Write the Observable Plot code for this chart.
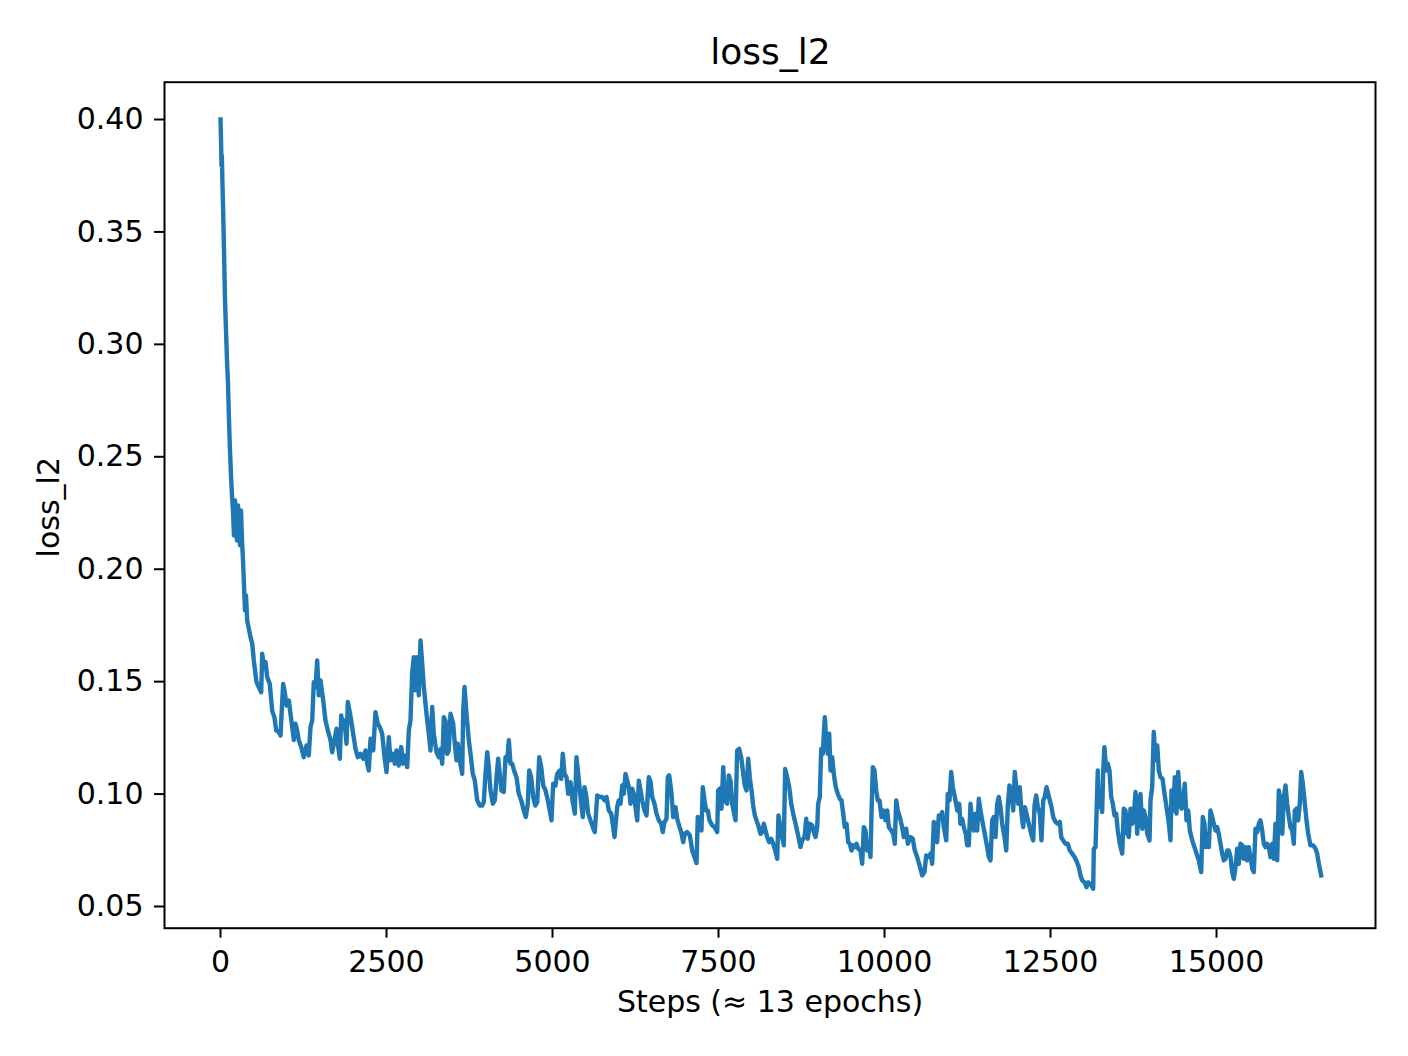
<!DOCTYPE html>
<html>
<head>
<meta charset="utf-8">
<script src="https://cdn.jsdelivr.net/npm/d3@7"></script>
<script src="https://cdn.jsdelivr.net/npm/@observablehq/plot@0.6"></script>
<style>
  html, body { margin: 0; padding: 0; background: #ffffff; }
  #chart { width: 1408px; height: 1056px; }
</style>
</head>
<body>
<div id="chart"></div>
<script>
const chartTitle = "loss_l2";
const xLabel = "Steps (\u2248 13 epochs)";
const yLabel = "loss_l2";
const xTicks = [0, 2500, 5000, 7500, 10000, 12500, 15000];
const yTicks = [0.05, 0.10, 0.15, 0.20, 0.25, 0.30, 0.35, 0.40];

const steps = [
  0, 8, 15, 20, 30, 38, 53, 68, 83, 98,
  113, 128, 143, 158, 173, 188, 203, 218, 233, 248,
  264, 279, 294, 309, 324, 339, 354, 369, 384, 402,
  452, 477, 502, 542, 577, 613, 628, 652, 678, 703,
  742, 779, 813, 839, 878, 904, 929, 944, 968, 994,
  1029, 1054, 1080, 1104, 1130, 1155, 1179, 1215, 1254, 1295,
  1330, 1355, 1381, 1405, 1431, 1456, 1480, 1506, 1547, 1581,
  1616, 1657, 1682, 1717, 1747, 1767, 1797, 1818, 1848, 1867,
  1898, 1917, 1947, 1968, 1998, 2033, 2068, 2108, 2149, 2184,
  2209, 2233, 2259, 2300, 2334, 2369, 2399, 2435, 2470, 2500,
  2535, 2560, 2595, 2625, 2651, 2685, 2721, 2751, 2786, 2812,
  2836, 2861, 2887, 2911, 2937, 2962, 2986, 3012, 3038, 3062,
  3102, 3137, 3163, 3188, 3212, 3253, 3288, 3313, 3339, 3363,
  3389, 3414, 3438, 3464, 3504, 3524, 3554, 3574, 3604, 3640,
  3655, 3675, 3705, 3739, 3765, 3800, 3830, 3866, 3905, 3941,
  3965, 3991, 4017, 4041, 4066, 4101, 4131, 4157, 4182, 4206,
  4232, 4266, 4292, 4318, 4342, 4367, 4393, 4428, 4458, 4492,
  4529, 4568, 4598, 4628, 4649, 4679, 4709, 4739, 4770, 4800,
  4830, 4860, 4895, 4929, 4959, 4985, 5010, 5045, 5071, 5110,
  5131, 5155, 5181, 5211, 5236, 5271, 5301, 5336, 5361, 5387,
  5422, 5456, 5482, 5507, 5538, 5572, 5607, 5637, 5673, 5708,
  5748, 5783, 5813, 5848, 5884, 5914, 5934, 5974, 5998, 6024,
  6050, 6074, 6099, 6125, 6149, 6175, 6200, 6224, 6250, 6276,
  6300, 6325, 6351, 6385, 6416, 6450, 6476, 6501, 6536, 6566,
  6601, 6637, 6661, 6687, 6717, 6736, 6757, 6788, 6818, 6852,
  6878, 6913, 6938, 6968, 6992, 7028, 7068, 7104, 7138, 7169,
  7188, 7218, 7243, 7263, 7289, 7314, 7339, 7364, 7405, 7440,
  7480, 7495, 7519, 7545, 7571, 7595, 7631, 7655, 7681, 7706,
  7730, 7756, 7781, 7811, 7842, 7872, 7896, 7922, 7947, 7971,
  7997, 8022, 8047, 8072, 8107, 8132, 8158, 8182, 8208, 8233,
  8263, 8294, 8324, 8354, 8384, 8403, 8423, 8449, 8483, 8504,
  8534, 8565, 8595, 8625, 8660, 8694, 8735, 8760, 8795, 8821,
  8845, 8875, 8911, 8935, 8961, 8986, 9001, 9025, 9047, 9071,
  9086, 9101, 9122, 9146, 9167, 9187, 9212, 9236, 9266, 9296,
  9327, 9352, 9378, 9402, 9428, 9453, 9477, 9503, 9528, 9553,
  9578, 9604, 9638, 9664, 9688, 9714, 9739, 9763, 9789, 9804,
  9824, 9849, 9875, 9899, 9925, 9955, 9989, 10015, 10041, 10065,
  10101, 10131, 10155, 10176, 10200, 10230, 10266, 10291, 10327, 10351,
  10391, 10426, 10456, 10492, 10527, 10568, 10602, 10628, 10658, 10693,
  10718, 10742, 10768, 10793, 10818, 10843, 10869, 10893, 10929, 10953,
  10979, 11004, 11028, 11059, 11095, 11125, 11144, 11170, 11194, 11224,
  11245, 11269, 11295, 11320, 11345, 11370, 11396, 11420, 11446, 11480,
  11510, 11546, 11571, 11596, 11622, 11646, 11672, 11697, 11721, 11747,
  11772, 11807, 11833, 11857, 11882, 11908, 11938, 11962, 11988, 12013,
  12037, 12063, 12089, 12113, 12138, 12173, 12209, 12239, 12259, 12284,
  12309, 12339, 12364, 12390, 12414, 12440, 12465, 12489, 12515, 12541,
  12575, 12610, 12640, 12661, 12691, 12726, 12760, 12791, 12827, 12861,
  12891, 12926, 12952, 12977, 13012, 13042, 13068, 13092, 13116, 13143,
  13152, 13178, 13193, 13212, 13228, 13253, 13278, 13294, 13312, 13339,
  13363, 13388, 13414, 13438, 13464, 13489, 13513, 13543, 13580, 13604,
  13629, 13655, 13679, 13705, 13730, 13754, 13780, 13806, 13830, 13855,
  13881, 13905, 13931, 13956, 13991, 14006, 14031, 14055, 14081, 14107,
  14131, 14156, 14187, 14217, 14247, 14277, 14307, 14322, 14348, 14372,
  14397, 14423, 14447, 14473, 14498, 14522, 14548, 14574, 14598, 14634,
  14668, 14699, 14733, 14769, 14793, 14819, 14834, 14860, 14884, 14909,
  14935, 14959, 14985, 15010, 15034, 15060, 15086, 15110, 15135, 15161,
  15185, 15211, 15236, 15260, 15286, 15311, 15336, 15361, 15387, 15411,
  15437, 15462, 15486, 15512, 15537, 15562, 15587, 15613, 15637, 15662,
  15688, 15712, 15738, 15763, 15787, 15813, 15839, 15863, 15888, 15914,
  15938, 15964, 15990, 16014, 16039, 16064, 16089, 16114, 16140, 16164,
  16179, 16205, 16230, 16254, 16275, 16300, 16325, 16355, 16381, 16415,
  16456, 16491, 16516, 16541, 16576
];

const lossL2 = [
  0.400, 0.391, 0.3795, 0.384, 0.3707, 0.3618, 0.3417, 0.3195, 0.3062, 0.2928,
  0.2826, 0.266, 0.2528, 0.2417, 0.2328, 0.2261, 0.215, 0.2306, 0.2217, 0.2128,
  0.2284, 0.2195, 0.2106, 0.2261, 0.2128, 0.2039, 0.1928, 0.1817, 0.1883, 0.1772,
  0.1698, 0.167, 0.1594, 0.1498, 0.1476, 0.1453, 0.1624, 0.1572, 0.1587, 0.152,
  0.149, 0.137, 0.134, 0.1283, 0.1276, 0.126, 0.141, 0.149, 0.1453, 0.1394,
  0.1416, 0.1357, 0.1298, 0.124, 0.1313, 0.1283, 0.124, 0.1209, 0.1164, 0.1216,
  0.1172, 0.1298, 0.1327, 0.1498, 0.1476, 0.1594, 0.1439, 0.1505, 0.1416, 0.1327,
  0.1283, 0.124, 0.1186, 0.124, 0.1291, 0.1224, 0.1157, 0.135, 0.1298, 0.1327,
  0.1224, 0.141, 0.1364, 0.1327, 0.1268, 0.1201, 0.1164, 0.1179, 0.1157, 0.1194,
  0.1135, 0.1105, 0.1246, 0.1194, 0.1364, 0.1313, 0.1298, 0.1268, 0.1164, 0.1098,
  0.1253, 0.115, 0.1179, 0.1135, 0.1194, 0.1127, 0.1209, 0.1135, 0.1172, 0.112,
  0.1283, 0.1327, 0.1542, 0.1609, 0.1461, 0.1609, 0.1439, 0.1683, 0.1579, 0.1476,
  0.1357, 0.1268, 0.1194, 0.1387, 0.1268, 0.1186, 0.1164, 0.12, 0.1135, 0.1342,
  0.1327, 0.1179, 0.1194, 0.1357, 0.1313, 0.124, 0.115, 0.1224, 0.115, 0.109,
  0.137, 0.1476, 0.1357, 0.124, 0.1179, 0.109, 0.106, 0.0972, 0.0949, 0.0949,
  0.0964, 0.109, 0.1186, 0.112, 0.1016, 0.0957, 0.0972, 0.1075, 0.1157, 0.109,
  0.1016, 0.1009, 0.1164, 0.115, 0.124, 0.1135, 0.1135, 0.1098, 0.1075, 0.1001,
  0.0972, 0.0927, 0.0898, 0.0957, 0.1105, 0.1075, 0.0987, 0.0949, 0.0964, 0.1164,
  0.112, 0.1038, 0.1016, 0.0972, 0.0927, 0.0883, 0.1046, 0.1038, 0.109, 0.1105,
  0.1068, 0.1179, 0.109, 0.1075, 0.1001, 0.1053, 0.0972, 0.0913, 0.1164, 0.109,
  0.0987, 0.0898, 0.1031, 0.0994, 0.0913, 0.0883, 0.0853, 0.0831, 0.0994, 0.0987,
  0.0987, 0.0972, 0.0987, 0.0927, 0.0913, 0.0853, 0.0809, 0.0942, 0.0972, 0.0957,
  0.1038, 0.1001, 0.109, 0.106, 0.1031, 0.0957, 0.1024, 0.1001, 0.0942, 0.0883,
  0.106, 0.1016, 0.0972, 0.0927, 0.0905, 0.1075, 0.1057, 0.0987, 0.0957, 0.0913,
  0.0883, 0.0868, 0.0831, 0.0876, 0.089, 0.1075, 0.1083, 0.1016, 0.0898, 0.0942,
  0.089, 0.0853, 0.0831, 0.0786, 0.0823, 0.0831, 0.0816, 0.0749, 0.072, 0.0693,
  0.0898, 0.089, 0.0838, 0.1031, 0.0972, 0.0927, 0.0927, 0.0883, 0.0861, 0.0853,
  0.0831, 0.1016, 0.1024, 0.0935, 0.112, 0.0972, 0.0957, 0.1083, 0.106, 0.0957,
  0.092, 0.0883, 0.1194, 0.1201, 0.1164, 0.109, 0.1038, 0.1016, 0.1157, 0.1075,
  0.1016, 0.0949, 0.0905, 0.0883, 0.0853, 0.0823, 0.0831, 0.0868, 0.0838, 0.0809,
  0.0786, 0.0801, 0.0779, 0.0749, 0.0712, 0.0905, 0.0868, 0.0823, 0.0772, 0.1112,
  0.1075, 0.1031, 0.0957, 0.0913, 0.0868, 0.0823, 0.0764, 0.0794, 0.0809, 0.089,
  0.0801, 0.0868, 0.0861, 0.0831, 0.0809, 0.0853, 0.0957, 0.0987, 0.1201, 0.1179,
  0.1268, 0.1342, 0.124, 0.1179, 0.1268, 0.1105, 0.1164, 0.109, 0.1031, 0.1001,
  0.0979, 0.0972, 0.0913, 0.0853, 0.0868, 0.0786, 0.0779, 0.0749, 0.0772, 0.0764,
  0.0779, 0.0757, 0.0749, 0.069, 0.0853, 0.0838, 0.0749, 0.0779, 0.072, 0.0913,
  0.112, 0.1105, 0.1016, 0.0972, 0.0972, 0.0898, 0.0927, 0.0883, 0.0927, 0.0853,
  0.0838, 0.0823, 0.0779, 0.0972, 0.0927, 0.0898, 0.0853, 0.0809, 0.0846, 0.0779,
  0.0809, 0.0801, 0.0749, 0.072, 0.0683, 0.0638, 0.0653, 0.0727, 0.072, 0.0735,
  0.069, 0.0876, 0.0868, 0.0786, 0.0905, 0.0898, 0.092, 0.0853, 0.0794, 0.1001,
  0.0972, 0.1098, 0.1031, 0.0987, 0.0927, 0.0957, 0.0868, 0.089, 0.0853, 0.0823,
  0.0772, 0.0772, 0.0957, 0.0868, 0.0838, 0.0913, 0.0838, 0.0979, 0.0927, 0.0868,
  0.0823, 0.0764, 0.072, 0.0705, 0.0883, 0.0898, 0.0809, 0.0957, 0.0987, 0.0942,
  0.0868, 0.0809, 0.0749, 0.0949, 0.1038, 0.1016, 0.0927, 0.1098, 0.1016, 0.0957,
  0.1031, 0.0913, 0.0853, 0.0942, 0.0913, 0.0868, 0.0823, 0.0794, 0.0949, 0.0994,
  0.0942, 0.0913, 0.0794, 0.0972, 0.0987, 0.1031, 0.1001, 0.0972, 0.0942, 0.0898,
  0.0876, 0.0868, 0.0876, 0.0809, 0.0794, 0.0779, 0.0779, 0.0749, 0.0735, 0.072,
  0.0702, 0.0675, 0.0638, 0.0616, 0.0608, 0.0586, 0.0608, 0.0601, 0.0594, 0.0579,
  0.0757, 0.0764, 0.0913, 0.1105, 0.0942, 0.1001, 0.092, 0.1105, 0.1209, 0.1105,
  0.1135, 0.1105, 0.0987, 0.0957, 0.0905, 0.0913, 0.0838, 0.0779, 0.0735, 0.0935,
  0.0927, 0.0823, 0.0809, 0.0935, 0.0868, 0.0898, 0.1009, 0.0823, 0.0957, 0.1001,
  0.0846, 0.0927, 0.0898, 0.0823, 0.0794, 0.0972, 0.1031, 0.1276, 0.115, 0.1216,
  0.1105, 0.1075, 0.1068, 0.1001, 0.0942, 0.0883, 0.0794, 0.1016, 0.0927, 0.1075,
  0.0913, 0.1098, 0.0987, 0.0935, 0.0972, 0.1046, 0.0883, 0.0927, 0.0838, 0.0794,
  0.0764, 0.0735, 0.0705, 0.0653, 0.0898, 0.0868, 0.0764, 0.0823, 0.0764, 0.0927,
  0.0898, 0.0868, 0.0838, 0.0853, 0.0823, 0.0779, 0.0735, 0.0705, 0.0712, 0.0749,
  0.0749, 0.072, 0.0653, 0.0623, 0.0675, 0.0757, 0.069, 0.0779, 0.0772, 0.0712,
  0.0764, 0.0705, 0.0764, 0.072, 0.0668, 0.0653, 0.0846, 0.0831, 0.0868, 0.0883,
  0.0838, 0.0779, 0.0764, 0.0779, 0.0764, 0.072, 0.0779, 0.0712, 0.0868, 0.0705,
  0.1016, 0.0972, 0.0823, 0.0987, 0.1038, 0.0957, 0.0898, 0.0853, 0.0838, 0.0779,
  0.0927, 0.0935, 0.0883, 0.0957, 0.1098, 0.1046, 0.0972, 0.0883, 0.0823, 0.0772,
  0.0772, 0.0757, 0.0735, 0.069, 0.0638
];

if (steps.length !== lossL2.length) {
  console.error("length mismatch", steps.length, lossL2.length);
}

const data = steps.map((s, i) => ({ step: s, loss: lossL2[i] }));
const font = "'DejaVu Sans', sans-serif";
const tickFontSize = 30;
const labelFontSize = 30;
const titleFontSize = 36;

const chart = Plot.plot({
  width: 1408,
  height: 1056,
  marginTop: 81.7,
  marginBottom: 128.3,
  marginLeft: 164,
  marginRight: 33,
  style: { fontFamily: font, fontSize: tickFontSize + "px", background: "#ffffff", color: "#000000" },
  x: { domain: [-843.4, 17394.3] },
  y: { domain: [0.04035, 0.41659] },
  marks: [
    Plot.line(data, {
      x: "step", y: "loss",
      stroke: "#1f77b4", strokeWidth: 4.4,
      strokeLinejoin: "round", strokeLinecap: "square"
    }),
    Plot.frame({ stroke: "#000000", strokeWidth: 2 }),
    Plot.axisX({
      ticks: xTicks, tickFormat: d3.format("d"),
      tickSize: 10, tickPadding: 12, strokeWidth: 2,
      fontSize: tickFontSize, label: null
    }),
    Plot.axisY({
      ticks: yTicks, tickFormat: d3.format(".2f"),
      tickSize: 10, tickPadding: 11, strokeWidth: 2,
      fontSize: tickFontSize, label: null
    }),
    Plot.text([chartTitle], {
      frameAnchor: "top", textAnchor: "middle", lineAnchor: "bottom", dy: -18.4, dx: 0.5,
      fontSize: titleFontSize, fill: "#000000"
    }),
    Plot.text([xLabel], {
      frameAnchor: "bottom", textAnchor: "middle", lineAnchor: "bottom", dy: 84,
      fontSize: labelFontSize, fill: "#000000"
    }),
    Plot.text([yLabel], {
      frameAnchor: "left", textAnchor: "middle", rotate: -90, lineAnchor: "bottom", dx: -106, dy: 2,
      fontSize: labelFontSize, fill: "#000000"
    })
  ]
});

document.getElementById("chart").appendChild(chart);
</script>
</body>
</html>
